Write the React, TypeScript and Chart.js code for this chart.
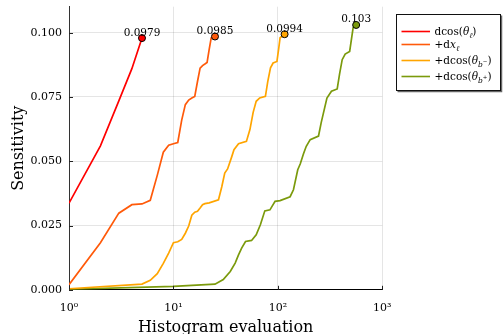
import { useEffect, useRef } from "react";
import { Chart, registerables } from "chart.js";

Chart.register(...registerables);

const SERIF = '"DejaVu Serif", "Liberation Serif", serif';

// Cumulative sensitivity against the number of histogram evaluations
const evalsDcosL = [1, 2, 3, 4, 5];
const sensDcosL = [0.0337, 0.056, 0.0735, 0.086, 0.0979];

const evalsDxL = [1, 2, 3, 4, 5, 6, 7, 8, 9, 10, 11, 12, 13, 14, 15, 16, 17, 18, 19, 20, 21, 22, 23, 24, 25];
const sensDxL = [
  0.002, 0.0183, 0.0298, 0.0331, 0.0334, 0.0348, 0.0445, 0.0535, 0.0562, 0.0568, 0.0573, 0.066, 0.072,
  0.0738, 0.0746, 0.0752, 0.081, 0.0862, 0.0872, 0.0878, 0.0884, 0.0935, 0.098, 0.0983, 0.0985,
];

const evalsDcosBm = [
  1, 5, 6, 7, 8, 9, 10, 11, 12, 13, 14, 15, 16, 17, 18, 19, 20, 22, 27, 29, 31, 33, 36, 38, 42, 50, 54, 58, 62,
  67, 76, 80, 85, 90, 98, 102, 105, 116,
];
const sensDcosBm = [
  0.0004, 0.0022, 0.0037, 0.0063, 0.0103, 0.0143, 0.0183, 0.0187, 0.0196, 0.022, 0.0248, 0.029, 0.0302,
  0.0305, 0.0318, 0.0331, 0.0335, 0.0338, 0.035, 0.04, 0.0454, 0.047, 0.0515, 0.0545, 0.0568, 0.0577, 0.0623,
  0.069, 0.0733, 0.0746, 0.0752, 0.081, 0.0863, 0.0882, 0.0888, 0.094, 0.098, 0.0994,
];

const evalsDcosBp = [
  1, 10, 25, 30, 35, 39, 42, 45, 49, 56, 62, 68, 75, 84, 94, 105, 131, 141, 155, 164, 176, 187, 204, 245, 260,
  273, 295, 326, 370, 390, 413, 441, 487, 526, 562,
];
const sensDcosBp = [
  0.0002, 0.0013, 0.0022, 0.004, 0.0071, 0.0104, 0.0136, 0.0162, 0.0188, 0.0192, 0.0214, 0.0253, 0.0307,
  0.0311, 0.0344, 0.0347, 0.0362, 0.0389, 0.0467, 0.049, 0.0529, 0.0558, 0.0584, 0.0598, 0.065, 0.0687,
  0.0746, 0.0772, 0.0781, 0.084, 0.0895, 0.0917, 0.0927, 0.102, 0.103,
];

const seriesNames = ["dcos(θℓ)", "+dxℓ", "+dcos(θb−)", "+dcos(θb+)"];
const seriesColors = ["#ff0000", "#ff5a0a", "#ffa500", "#7b9a0c"];

const xTickValues = [1, 10, 100, 1000];
const yTickValues = [0, 0.025, 0.05, 0.075, 0.1];
const SUP = ["⁰", "¹", "²", "³"];

const xTitle = "Histogram evaluation";
const yTitle = "Sensitivity";

// Rich-text runs for the legend: level 0 = base, 1 = subscript, 2 = script on the subscript
type Run = { t: string; it?: boolean; lvl?: number };
const legendRuns: Run[][] = [
  [{ t: "dcos(" }, { t: "θ", it: true }, { t: "ℓ", it: true, lvl: 1 }, { t: ")" }],
  [{ t: "+d" }, { t: "x", it: true }, { t: "ℓ", it: true, lvl: 1 }],
  [{ t: "+dcos(" }, { t: "θ", it: true }, { t: "b", it: true, lvl: 1 }, { t: "−", lvl: 2 }, { t: ")" }],
  [{ t: "+dcos(" }, { t: "θ", it: true }, { t: "b", it: true, lvl: 1 }, { t: "+", lvl: 2 }, { t: ")" }],
];

const formatPeak = (v: number) => String(Number(v.toPrecision(3)));

const decorations = {
  id: "decorations",
  afterDatasetsDraw(chart: any) {
    const ctx: CanvasRenderingContext2D = chart.ctx;
    const { left, right, top, bottom } = chart.chartArea;
    const xs = chart.scales.x;
    const ys = chart.scales.y;

    ctx.save();
    // inward tick marks
    ctx.strokeStyle = "#222";
    ctx.lineWidth = 1;
    ctx.beginPath();
    for (const v of yTickValues) {
      const y = Math.round(ys.getPixelForValue(v)) + 0.5;
      ctx.moveTo(left, y);
      ctx.lineTo(left + 4, y);
    }
    for (const v of xTickValues) {
      const x = Math.round(xs.getPixelForValue(v)) + 0.5;
      ctx.moveTo(x, bottom);
      ctx.lineTo(x, bottom - 4);
    }
    ctx.stroke();

    // value labels above the final point of each series
    ctx.fillStyle = "#000";
    ctx.font = `10.5px ${SERIF}`;
    ctx.textAlign = "center";
    ctx.textBaseline = "alphabetic";
    chart.data.datasets.forEach((ds: any, i: number) => {
      const meta = chart.getDatasetMeta(i);
      const pt = meta.data[meta.data.length - 1];
      const v = ds.data[ds.data.length - 1].y;
      ctx.fillText(formatPeak(v), pt.x, pt.y - 2.5);
    });

    // axis titles
    ctx.font = `16px ${SERIF}`;
    ctx.fillText(xTitle, (left + right) / 2, 331.5);
    ctx.save();
    ctx.translate(22.5, (top + bottom) / 2);
    ctx.rotate(-Math.PI / 2);
    ctx.fillText(yTitle, 0, 0);
    ctx.restore();

    // legend
    const bx = 396.5, by = 14.5, bw = 104, bh = 76;
    ctx.fillStyle = "#fff";
    ctx.fillRect(bx, by, bw, bh);
    ctx.strokeStyle = "#666";
    ctx.lineWidth = 1.5;
    ctx.beginPath();
    ctx.moveTo(bx + bw + 1, by + 1);
    ctx.lineTo(bx + bw + 1, by + bh + 1);
    ctx.lineTo(bx + 1, by + bh + 1);
    ctx.stroke();
    ctx.strokeStyle = "#111";
    ctx.lineWidth = 1;
    ctx.strokeRect(bx, by, bw, bh);

    const rowY = [31.5, 44.5, 60.5, 76.5];
    const sizes = [10.5, 7.5, 5.5];
    const dys = [0, 2.5, -1];
    ctx.textAlign = "left";
    legendRuns.forEach((runs, i) => {
      ctx.strokeStyle = seriesColors[i];
      ctx.lineWidth = 1.6;
      ctx.beginPath();
      ctx.moveTo(401.5, rowY[i]);
      ctx.lineTo(430, rowY[i]);
      ctx.stroke();
      let x = 434.5;
      const base = rowY[i] + 3.5;
      ctx.fillStyle = "#000";
      for (const r of runs) {
        const lvl = r.lvl ?? 0;
        ctx.font = `${r.it ? "italic " : ""}${sizes[lvl]}px ${SERIF}`;
        ctx.fillText(r.t, x, base + dys[lvl]);
        x += ctx.measureText(r.t).width;
      }
    });
    ctx.restore();
  },
};

export default function App() {
  const canvasRef = useRef<HTMLCanvasElement | null>(null);

  useEffect(() => {
    const canvas = canvasRef.current;
    if (!canvas) return;
    const series = [
      { xs: evalsDcosL, ys: sensDcosL },
      { xs: evalsDxL, ys: sensDxL },
      { xs: evalsDcosBm, ys: sensDcosBm },
      { xs: evalsDcosBp, ys: sensDcosBp },
    ];
    const chart = new Chart(canvas, {
      type: "line",
      data: {
        datasets: series.map((s, i) => ({
          label: seriesNames[i],
          data: s.xs.map((x, k) => ({ x, y: s.ys[k] })),
          borderColor: seriesColors[i],
          backgroundColor: seriesColors[i],
          borderWidth: 1.7,
          tension: 0,
          fill: false,
          pointRadius: (c: any) => (c.dataIndex === s.xs.length - 1 ? 3.5 : 0),
          pointHoverRadius: 0,
          pointBackgroundColor: seriesColors[i],
          pointBorderColor: "#000",
          pointBorderWidth: 1,
        })),
      },
      options: {
        responsive: false,
        animation: false,
        events: [],
        layout: { padding: { top: 6.7, right: 120.7, left: 0, bottom: 0 } },
        plugins: { legend: { display: false }, tooltip: { enabled: false } },
        scales: {
          x: {
            type: "logarithmic",
            min: 1,
            max: 1000,
            afterBuildTicks: (s: any) => {
              s.ticks = xTickValues.map((value) => ({ value }));
            },
            afterFit: (s: any) => {
              s.height = 44.2;
              s.paddingLeft = 0;
              s.paddingRight = 0;
            },
            grid: { color: "rgba(0,0,0,0.1)", drawTicks: false },
            border: { color: "#000", width: 1 },
            ticks: {
              callback: (v: any) => "10" + SUP[Math.round(Math.log10(Number(v)))],
              font: { family: SERIF, size: 11 },
              color: "#000",
              padding: 12,
              maxRotation: 0,
              autoSkip: false,
            },
          },
          y: {
            type: "linear",
            min: 0,
            max: 0.1101,
            afterBuildTicks: (s: any) => {
              s.ticks = yTickValues.map((value) => ({ value }));
            },
            afterFit: (s: any) => {
              s.width = 69;
              s.paddingTop = 0;
              s.paddingBottom = 0;
            },
            grid: { color: "rgba(0,0,0,0.1)", drawTicks: false },
            border: { color: "#333", width: 1 },
            ticks: {
              callback: (v: any) => Number(v).toFixed(3),
              font: { family: SERIF, size: 11 },
              color: "#000",
              padding: 7,
            },
          },
        },
      },
      plugins: [decorations],
    } as any);
    return () => chart.destroy();
  }, []);

  return (
    <div style={{ position: "fixed", left: 0, top: 0, width: 503, height: 334, background: "#fff" }}>
      <canvas ref={canvasRef} width={503} height={334} style={{ display: "block" }} />
    </div>
  );
}
